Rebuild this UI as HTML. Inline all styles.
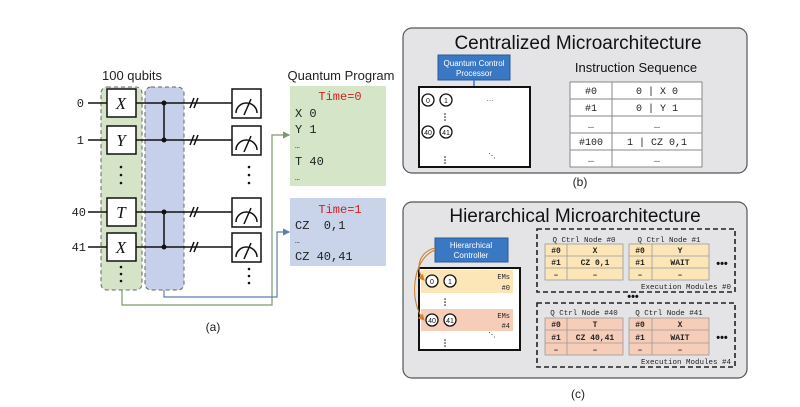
<!DOCTYPE html>
<html><head><meta charset="utf-8"><style>
html,body{margin:0;padding:0;background:#fff;}
svg{display:block;}
.s{font-family:"Liberation Sans",sans-serif;}
.m{font-family:"Liberation Mono",monospace;}
</style></head><body>
<svg width="800" height="407" viewBox="0 0 800 407" xmlns="http://www.w3.org/2000/svg">
<defs>
<marker id="ag" markerWidth="6" markerHeight="6" refX="5" refY="3" orient="auto"><path d="M0,0 L6,3 L0,6z" fill="#7a9a6a"/></marker>
<marker id="ab" markerWidth="6" markerHeight="6" refX="5" refY="3" orient="auto"><path d="M0,0 L6,3 L0,6z" fill="#5a80b0"/></marker>
<marker id="ao" markerWidth="6" markerHeight="6" refX="5" refY="3" orient="auto"><path d="M0,0 L6,3 L0,6z" fill="#d08030"/></marker>
</defs>
<!-- (a) -->
<text x="132" y="80" class="s" font-size="13" text-anchor="middle" fill="#222">100 qubits</text>
<rect x="101" y="87" width="41" height="203" rx="6" fill="#d5e4c6" stroke="#666" stroke-dasharray="4,3"/>
<rect x="145" y="87" width="39" height="203" rx="6" fill="#c6d0ea" stroke="#666" stroke-dasharray="4,3"/>
<g stroke="#111" stroke-width="1.5">
<line x1="88" y1="103" x2="232" y2="103"/><line x1="88" y1="140" x2="232" y2="140"/>
<line x1="88" y1="212" x2="232" y2="212"/><line x1="88" y1="247" x2="232" y2="247"/>
<line x1="164" y1="103" x2="164" y2="140"/><line x1="164" y1="212" x2="164" y2="247"/>
<path d="M190,108 l4,-10 M194,108 l4,-10 M190,145 l4,-10 M194,145 l4,-10 M190,217 l4,-10 M194,217 l4,-10 M190,252 l4,-10 M194,252 l4,-10"/>
</g>
<g fill="#111"><circle cx="164" cy="103" r="2.5"/><circle cx="164" cy="140" r="2.5"/><circle cx="164" cy="212" r="2.5"/><circle cx="164" cy="247" r="2.5"/></g>
<g class="m" font-size="12" fill="#222" text-anchor="end"><text x="84" y="107">0</text><text x="84" y="144">1</text><text x="86" y="216">40</text><text x="86" y="251">41</text></g>
<g fill="#fff" stroke="#111" stroke-width="1.5">
<rect x="107" y="89" width="29" height="28"/><rect x="107" y="126" width="29" height="28"/>
<rect x="107" y="198" width="29" height="28"/><rect x="107" y="233" width="29" height="28"/>
<rect x="232" y="89" width="29" height="29"/><rect x="232" y="126" width="29" height="29"/>
<rect x="232" y="198" width="29" height="29"/><rect x="232" y="233" width="29" height="29"/>
</g>
<g font-family="Liberation Serif,serif" font-style="italic" font-size="17" text-anchor="middle" fill="#111">
<text x="121" y="109">X</text><text x="121" y="146">Y</text><text x="121" y="218">T</text><text x="121" y="253">X</text></g>
<g fill="none" stroke="#111" stroke-width="1.5">
<path d="M236,113 a10.5,10 0 0 1 21,0 M244,115 l7,-16"/><path d="M236,150 a10.5,10 0 0 1 21,0 M244,152 l7,-16"/>
<path d="M236,222 a10.5,10 0 0 1 21,0 M244,224 l7,-16"/><path d="M236,257 a10.5,10 0 0 1 21,0 M244,259 l7,-16"/>
</g>
<g fill="#111"><circle cx="121" cy="167" r="1.3"/><circle cx="121" cy="175" r="1.3"/><circle cx="121" cy="183" r="1.3"/>
<circle cx="121" cy="267" r="1.3"/><circle cx="121" cy="274" r="1.3"/><circle cx="121" cy="281" r="1.3"/>
<circle cx="249" cy="167" r="1.3"/><circle cx="249" cy="175" r="1.3"/><circle cx="249" cy="183" r="1.3"/>
<circle cx="249" cy="269" r="1.3"/><circle cx="249" cy="276" r="1.3"/><circle cx="249" cy="283" r="1.3"/></g>
<path d="M122,290 V305 H272 V135 H289" fill="none" stroke="#7a9a6a" stroke-width="1.2" marker-end="url(#ag)"/>
<path d="M164,290 V297 H277 V232 H289" fill="none" stroke="#5a80b0" stroke-width="1.2" marker-end="url(#ab)"/>
<text x="341" y="80" class="s" font-size="13" text-anchor="middle" fill="#222">Quantum Program</text>
<rect x="290" y="86" width="96" height="100" fill="#d5e6c8"/>
<rect x="290" y="198" width="96" height="68" fill="#c9d3ea"/>
<g class="m" font-size="12" fill="#222">
<text x="340" y="100" fill="#d02020" text-anchor="middle">Time=0</text>
<text x="295" y="117">X 0</text><text x="295" y="133">Y 1</text><text x="295" y="148" font-size="8">…</text><text x="295" y="165">T 40</text><text x="295" y="180" font-size="8">…</text>
<text x="340" y="213" fill="#d02020" text-anchor="middle">Time=1</text>
<text x="295" y="229" xml:space="preserve">CZ  0,1</text><text x="295" y="243" font-size="8">…</text><text x="295" y="260" xml:space="preserve">CZ 40,41</text>
</g>
<text x="213" y="331" class="s" font-size="12" text-anchor="middle" fill="#222">(a)</text>
<!-- (b) -->
<rect x="403" y="28" width="344" height="145" rx="9" fill="#e4e4e6" stroke="#555" stroke-width="1.2"/>
<text x="578" y="49" class="s" font-size="19" text-anchor="middle" fill="#111">Centralized Microarchitecture</text>
<rect x="438" y="55" width="72" height="25" fill="#3b78c4" stroke="#2a5a96"/>
<text x="474" y="66" class="s" font-size="8" fill="#fff" text-anchor="middle">Quantum Control</text>
<text x="474" y="76" class="s" font-size="8" fill="#fff" text-anchor="middle">Processor</text>
<line x1="474" y1="80" x2="474" y2="86" stroke="#3b78c4" stroke-width="1.5"/>
<rect x="419" y="87" width="111" height="80" fill="#fff" stroke="#111" stroke-width="2"/>
<g fill="none" stroke="#111" stroke-width="1.3"><circle cx="428" cy="100" r="6"/><circle cx="446" cy="100" r="6"/><circle cx="428" cy="132" r="6"/><circle cx="446" cy="132" r="6"/></g>
<g class="s" font-size="7" text-anchor="middle" fill="#111"><text x="428" y="103">0</text><text x="446" y="103">1</text><text x="428" y="135">40</text><text x="446" y="135">41</text>
<text x="490" y="101">…</text><text x="492" y="158">⋱</text></g>
<g fill="#111"><circle cx="445" cy="114" r="0.8"/><circle cx="445" cy="117" r="0.8"/><circle cx="445" cy="120" r="0.8"/>
<circle cx="445" cy="157" r="0.8"/><circle cx="445" cy="160" r="0.8"/><circle cx="445" cy="163" r="0.8"/></g>
<text x="636" y="72" class="s" font-size="13" text-anchor="middle" fill="#111">Instruction Sequence</text>
<rect x="570" y="82" width="132" height="85" fill="#fff" stroke="#888"/>
<g stroke="#888"><line x1="612" y1="82" x2="612" y2="167"/><line x1="570" y1="99" x2="702" y2="99"/><line x1="570" y1="116" x2="702" y2="116"/><line x1="570" y1="133" x2="702" y2="133"/><line x1="570" y1="150" x2="702" y2="150"/></g>
<g class="m" font-size="10" text-anchor="middle" fill="#222">
<text x="591" y="94">#0</text><text x="657" y="94">0 | X 0</text>
<text x="591" y="111">#1</text><text x="657" y="111">0 | Y 1</text>
<text x="591" y="128">…</text><text x="657" y="128">…</text>
<text x="591" y="145">#100</text><text x="657" y="145">1 | CZ 0,1</text>
<text x="591" y="162">…</text><text x="657" y="162">…</text></g>
<text x="580" y="186" class="s" font-size="12" text-anchor="middle" fill="#222">(b)</text>
<!-- (c) -->
<rect x="403" y="202" width="344" height="176" rx="9" fill="#e4e4e6" stroke="#555" stroke-width="1.2"/>
<text x="575" y="222" class="s" font-size="19" text-anchor="middle" fill="#111">Hierarchical Microarchitecture</text>
<rect x="435" y="238" width="73" height="24" fill="#3b78c4" stroke="#2a5a96"/>
<text x="471" y="248" class="s" font-size="8" fill="#fff" text-anchor="middle">Hierarchical</text>
<text x="471" y="258" class="s" font-size="8" fill="#fff" text-anchor="middle">Controller</text>
<rect x="419" y="268" width="101" height="82" fill="#fff" stroke="#111" stroke-width="2"/>
<rect x="421" y="270" width="92" height="23" fill="#fce6b8"/>
<rect x="421" y="309" width="92" height="22" fill="#f6cdb9"/>
<path d="M435,248 C418,252 415,270 424,280" fill="none" stroke="#d08030" stroke-width="1.1" marker-end="url(#ao)"/>
<path d="M435,250 C410,260 410,305 424,320" fill="none" stroke="#d08030" stroke-width="1.1" marker-end="url(#ao)"/>
<g fill="#fff" stroke="#111" stroke-width="1.3"><circle cx="432" cy="281" r="6"/><circle cx="450" cy="281" r="6"/><circle cx="432" cy="320" r="6"/><circle cx="450" cy="320" r="6"/></g>
<g class="s" font-size="7" text-anchor="middle" fill="#111"><text x="432" y="284">0</text><text x="450" y="284">1</text><text x="432" y="323">40</text><text x="450" y="323">41</text><text x="492" y="337">⋱</text></g>
<g class="m" font-size="7" text-anchor="end" fill="#222"><text x="510" y="279">EMs</text><text x="510" y="290">#0</text><text x="510" y="318">EMs</text><text x="510" y="328">#4</text></g>
<g fill="#111"><circle cx="445" cy="299" r="0.8"/><circle cx="445" cy="302" r="0.8"/><circle cx="445" cy="305" r="0.8"/>
<circle cx="445" cy="340" r="0.8"/><circle cx="445" cy="343" r="0.8"/><circle cx="445" cy="346" r="0.8"/></g>
<g fill="none" stroke="#222" stroke-width="1.6" stroke-dasharray="5,3"><rect x="537" y="229" width="198" height="63"/><rect x="537" y="303" width="198" height="64"/></g>
<g class="m" font-size="7.5" fill="#222" text-anchor="middle">
<text x="584" y="242">Q Ctrl Node #0</text><text x="669" y="242">Q Ctrl Node #1</text>
<text x="584" y="315">Q Ctrl Node #40</text><text x="669" y="315">Q Ctrl Node #41</text>
<text x="731" y="289" text-anchor="end">Execution Modules #0</text><text x="731" y="364" text-anchor="end">Execution Modules #4</text>
</g>
<g class="s" font-size="11" font-weight="bold" fill="#111" text-anchor="middle"><text x="722" y="267">•••</text><text x="722" y="341">•••</text><text x="633" y="300">•••</text></g>
<g stroke="#999" stroke-width="0.8">
<rect x="545" y="244" width="78" height="36" fill="#fce6b8"/><rect x="629" y="244" width="80" height="36" fill="#fce6b8"/>
<rect x="545" y="318" width="78" height="37" fill="#f6cdb9"/><rect x="629" y="318" width="80" height="37" fill="#f6cdb9"/>
<path d="M567,244V280M652,244V280M545,256H623M545,268H623M629,256H709M629,268H709"/>
<path d="M567,318V355M652,318V355M545,330H623M545,343H623M629,330H709M629,343H709"/>
</g>
<g class="m" font-size="8" font-weight="bold" fill="#222" text-anchor="middle">
<text x="556" y="253">#0</text><text x="595" y="253">X</text><text x="640" y="253">#0</text><text x="680" y="253">Y</text>
<text x="556" y="265">#1</text><text x="595" y="265">CZ 0,1</text><text x="640" y="265">#1</text><text x="680" y="265">WAIT</text>
<text x="556" y="277">–</text><text x="595" y="277">–</text><text x="640" y="277">–</text><text x="680" y="277">–</text>
<text x="556" y="327">#0</text><text x="595" y="327">T</text><text x="640" y="327">#0</text><text x="680" y="327">X</text>
<text x="556" y="340">#1</text><text x="595" y="340">CZ 40,41</text><text x="640" y="340">#1</text><text x="680" y="340">WAIT</text>
<text x="556" y="352">–</text><text x="595" y="352">–</text><text x="640" y="352">–</text><text x="680" y="352">–</text>
</g>
<text x="578" y="398" class="s" font-size="12" text-anchor="middle" fill="#222">(c)</text>
</svg>
</body></html>
